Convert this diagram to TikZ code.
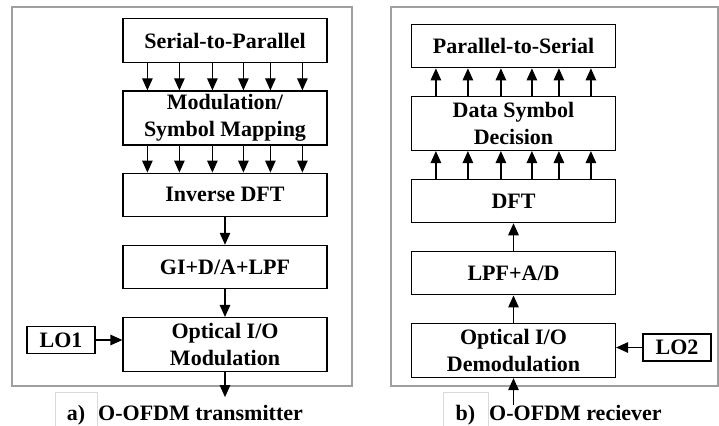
\documentclass[tikz,border=0pt]{standalone}
\usepackage{fontspec}
\setmainfont{Liberation Serif}
\usetikzlibrary{positioning,arrows.meta}
\tikzset{blk/.style={draw,line width=1.2pt,minimum width=204pt,minimum height=43.5pt,
        inner sep=0pt,align=center,font=\fontsize{22}{27}\selectfont\bfseries},
        tall/.style={blk,minimum height=54pt},
        lo/.style={draw,line width=1.2pt,minimum width=68pt,minimum height=27pt,
        inner sep=0pt,font=\fontsize{22}{27}\selectfont\bfseries},
        frame/.style={draw=gray!75,line width=1.2pt},
        sig/.style={-{Triangle[length=12pt,width=10.5pt]},line width=1.2pt},
        tag/.style={draw=gray!30,line width=0.8pt,minimum height=46pt,inner sep=0pt,
        text height=15pt,text depth=5pt,font=\fontsize{22}{27}\selectfont\bfseries},
        captext/.style={anchor=base west,inner sep=0pt,font=\fontsize{22}{27}\selectfont\bfseries}}
\begin{document}
\begin{tikzpicture}[x=1pt,y=-1pt,node distance=27.5pt]
\useasboundingbox (0,0) rectangle (719,425);
\draw[frame] (12,7) rectangle (352,386);
\draw[frame] (391,7) rectangle (718,386);

% a) transmitter
\node[blk] (s2p) at (225,40.5) {Serial-to-Parallel};
\node[tall,below=of s2p] (map) {Modulation/\\Symbol Mapping};
\node[blk,below=27pt of map] (idft) {Inverse DFT};
\node[blk,below=of idft] (dac) {GI+D/A+LPF};
\node[tall,below=of dac] (mod) {Optical I/O\\Modulation};
\node[lo] (lo1) at (61,340) {LO1};
\coordinate (txout) at ([yshift=-25pt]mod.south);
\foreach \dx in {25,57,90,121,148,180} {
  \draw[sig] ([xshift=\dx pt]s2p.south west) -- ([xshift=\dx pt]map.north west);
  \draw[sig] ([xshift=\dx pt]map.south west) -- ([xshift=\dx pt]idft.north west);
}
\draw[sig] (idft) -- (dac);
\draw[sig] (dac) -- (mod);
\draw[sig] (lo1) -- (lo1 -| mod.west);
\draw[sig] (mod) -- (txout);
\node[tag,minimum width=42pt] (taga) at (76,415) {a)};
\node[captext] (capa) at (98,420) {O-OFDM transmitter};

% b) receiver
\node[blk] (p2s) at (513.5,46) {Parallel-to-Serial};
\node[tall,below=of p2s] (dec) {Data Symbol\\Decision};
\node[blk,below=of dec] (dft) {DFT};
\node[blk,below=of dft] (adc) {LPF+A/D};
\node[tall,below=of adc] (demod) {Optical I/O\\Demodulation};
\node[lo] (lo2) at (677,347.5) {LO2};
\coordinate (rxin) at ([yshift=-27pt]demod.south);
\foreach \dx in {25,57,90,121,148,180} {
  \draw[sig] ([xshift=\dx pt]dec.north west) -- ([xshift=\dx pt]p2s.south west);
  \draw[sig] ([xshift=\dx pt]dft.north west) -- ([xshift=\dx pt]dec.south west);
}
\draw[sig] (adc) -- (dft);
\draw[sig] (demod) -- (adc);
\draw[sig] (lo2) -- (lo2 -| demod.east);
\draw[sig] (rxin) -- (demod);
\node[tag,minimum width=45pt] (tagb) at (465.5,415) {b)};
\node[captext] (capb) at (489,420) {O-OFDM reciever};
\end{tikzpicture}
\end{document}
